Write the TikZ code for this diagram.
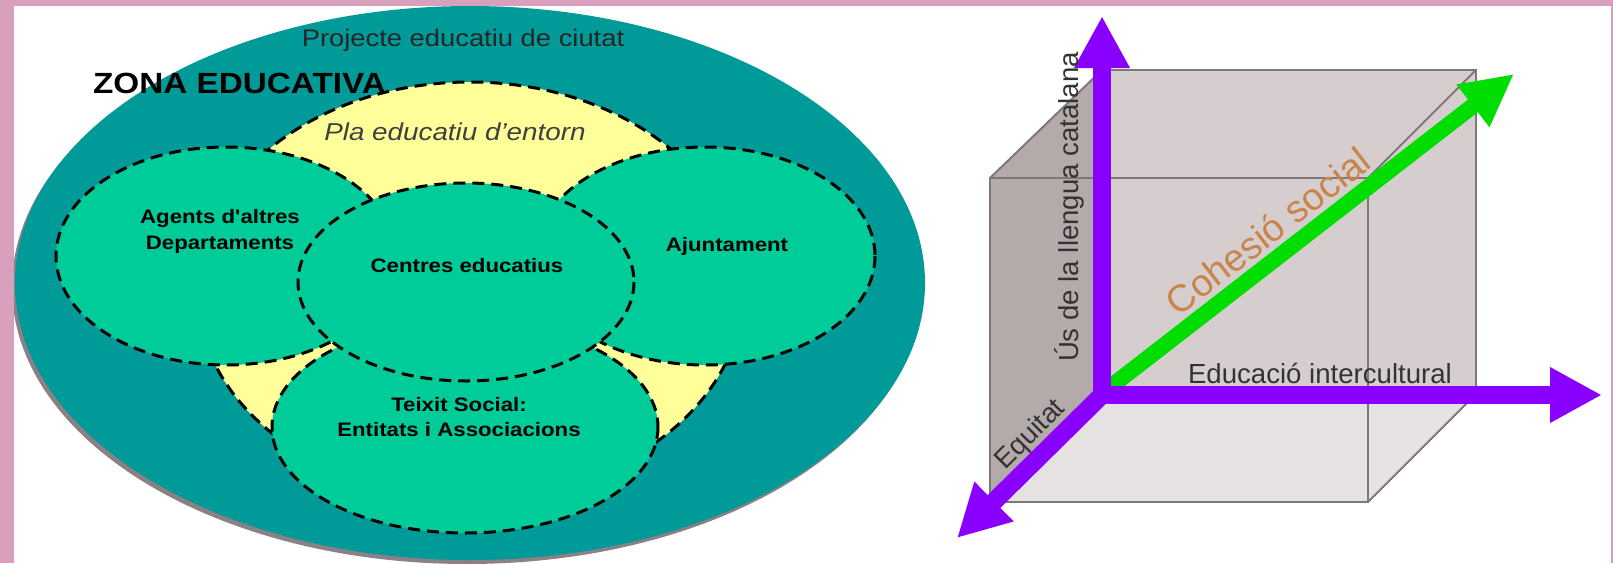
\documentclass[tikz,border=0pt]{standalone}
\usepackage{fontspec}
\setmainfont{Liberation Sans}
\newfontfamily\wideSans[FakeStretch=1.14]{Liberation Sans}
\usetikzlibrary{arrows.meta}
\definecolor{pinkframe}{HTML}{D8A0BC}
\definecolor{tealzone}{HTML}{009A98}
\definecolor{mint}{HTML}{00CC99}
\definecolor{paleyellow}{HTML}{FFFF99}
\definecolor{shadowgray}{HTML}{8A8086}
\definecolor{axispurple}{HTML}{8A00FF}
\definecolor{axisgreen}{HTML}{00DD00}
\definecolor{cubeback}{HTML}{D6CECE}
\definecolor{cubeleft}{HTML}{B4AAAA}
\definecolor{cubebottom}{HTML}{E6E2E2}
\definecolor{cubeedge}{HTML}{7E7878}
\definecolor{labelgray}{HTML}{333333}
\definecolor{cohesion}{HTML}{C8844A}
\begin{document}
\begin{tikzpicture}[x=0.5pt,y=-0.5pt,
  dashedge/.style={draw=black,line width=1.5pt,dash pattern=on 6pt off 3.5pt},
  zone/.style={dashedge,fill=mint},
  boldlabel/.style={font=\wideSans\bfseries\fontsize{9.75pt}{13pt}\selectfont,align=center,text=black,inner sep=0pt},
  cubelabel/.style={font=\fontsize{13.8pt}{16pt}\selectfont,text=labelgray,inner sep=0pt},
  axis/.style={draw=axispurple,line width=9pt,-{Triangle[length=26pt,width=26pt]}},
  greenaxis/.style={draw=axisgreen,line width=8pt,-{Triangle[length=26pt,width=25pt]}},
  cubeline/.style={draw=cubeedge,line width=1pt}]
\useasboundingbox (0,0) rectangle (1613,563);
\fill[white] (0,0) rectangle (1613,563);

% ---------- left diagram ----------
\fill[shadowgray] (467,287) ellipse [x radius=455, y radius=277];
\fill[tealzone] (470,283) ellipse [x radius=455, y radius=277];
\path[dashedge,fill=paleyellow] (470,290) ellipse [x radius=273, y radius=208];
\path[zone] (226,256) ellipse [x radius=170, y radius=109];
\path[zone] (705,256) ellipse [x radius=170, y radius=109];
\path[zone] (465,427) ellipse [x radius=193, y radius=106];
\path[zone] (466,282) ellipse [x radius=168, y radius=99];

\node[font=\wideSans\fontsize{12pt}{14pt}\selectfont,text=black!85,inner sep=0pt,anchor=base] (projecte) at (463,46.5) {Projecte educatiu de ciutat};
\node[font=\wideSans\bfseries\fontsize{14.6pt}{16pt}\selectfont,text=black,inner sep=0pt,anchor=base] (zona) at (239.5,93) {ZONA EDUCATIVA};
\node[font=\wideSans\itshape\fontsize{12.2pt}{14pt}\selectfont,text=black!75,inner sep=0pt,anchor=base] (pla) at (455,140) {Pla educatiu d’entorn};
\node[boldlabel] (agents) at (220,231) {Agents d'altres\\Departaments};
\node[boldlabel,anchor=base] (ajuntament) at (727,251) {Ajuntament};
\node[boldlabel,anchor=base] (centres) at (467,272) {Centres educatius};
\node[boldlabel,font=\wideSans\bfseries\fontsize{9.75pt}{12.4pt}\selectfont] (teixit) at (459,417) {Teixit Social:\\Entitats i Associacions};

% ---------- right diagram: cube ----------
\coordinate (FTL) at (990,178);
\coordinate (FTR) at (1368,178);
\coordinate (FBR) at (1368,502);
\coordinate (FBL) at (990,502);
\coordinate (BTL) at (1102,70);
\coordinate (BTR) at (1476,70);
\coordinate (BBR) at (1476,394);
\coordinate (BBL) at (1102,394);

\fill[cubeback] (BBL) -- (BTL) -- (BTR) -- (BBR) -- cycle;
\fill[cubeback] (FTL) -- (BTL) -- (BTR) -- (FTR) -- cycle;
\fill[cubeback] (FTR) -- (BTR) -- (BBR) -- (FBR) -- cycle;
\fill[cubebottom] (FBL) -- (BBL) -- (BBR) -- (FBR) -- cycle;
\fill[cubeleft] (FBL) -- (FTL) -- (BTL) -- (BBL) -- cycle;

\draw[cubeline] (FBL) -- (FTL) -- (FTR) -- (FBR) -- cycle;
\draw[cubeline] (BBL) -- (BTL) -- (BTR) -- (BBR) -- cycle;
\draw[cubeline] (FTL) -- (BTL);
\draw[cubeline] (FTR) -- (BTR);
\draw[cubeline] (FBR) -- (BBR);
\draw[cubeline] (FBL) -- (BBL);

% ---------- axes ----------
\coordinate (O) at (1102,395);
\coordinate (vbot) at (1102,404);
\coordinate (vtip) at (1102,16);
\coordinate (hleft) at (1093,395);
\coordinate (htip) at (1602,395);
\coordinate (etip) at (957,538);
\coordinate (gstart) at (1109,388);
\coordinate (gtip) at (1514,74);

\draw[greenaxis] (gstart) -- (gtip);
\draw[axis] (O) -- (etip);
\draw[axis] (hleft) -- (htip);
\draw[axis] (vbot) -- (vtip);

\node[cubelabel,rotate=90,anchor=base] (uslabel) at (1078,207) {Ús de la llengua catalana};
\node[cubelabel,anchor=base] (edulabel) at (1320,383) {Educació intercultural};
\node[cubelabel,rotate=45,anchor=base] (eqlabel) at (1036,440) {Equitat};
\node[font=\fontsize{19pt}{22pt}\selectfont,text=cohesion,rotate=37.8,anchor=base,inner sep=0pt] (cohlabel) at (1276,242) {Cohesió social};

% ---------- frame ----------
\fill[pinkframe] (0,0) rectangle (1613,6);
\fill[pinkframe] (0,0) rectangle (14,563);
\fill[pinkframe] (1611,0) rectangle (1613,563);
\end{tikzpicture}
\end{document}
